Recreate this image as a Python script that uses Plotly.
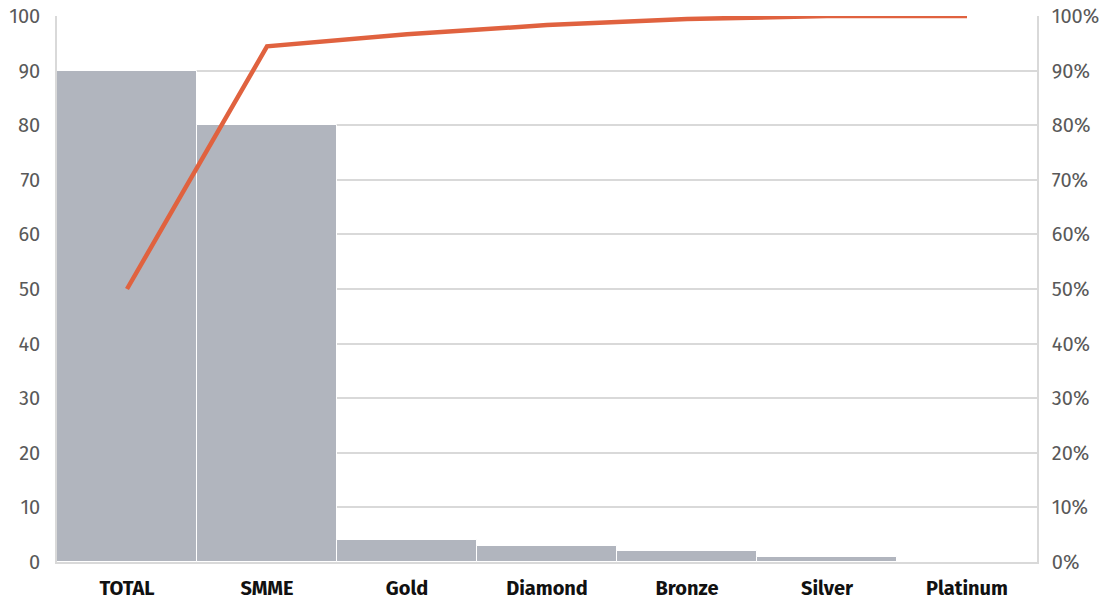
import plotly.graph_objects as go

categories = ["TOTAL", "SMME", "Gold", "Diamond", "Bronze", "Silver", "Platinum"]
counts = [90, 80, 4, 3, 2, 1, 0]
cumulative_pct = [0.5, 0.9444, 0.9667, 0.9833, 0.9944, 1.0, 1.0]

fig = go.Figure()
fig.add_trace(go.Bar(
    x=categories, y=counts,
    marker=dict(color="#b1b5be", line=dict(color="white", width=1)),
    yaxis="y", showlegend=False,
))
fig.add_trace(go.Scatter(
    x=categories, y=cumulative_pct, mode="lines",
    line=dict(color="#e0623f", width=4.5),
    yaxis="y2", showlegend=False,
))

font = "Fira Sans, Noto Sans, Open Sans, sans-serif"
fig.update_layout(
    width=1109, height=606,
    margin=dict(l=57, r=72, t=16, b=44),
    paper_bgcolor="white", plot_bgcolor="white",
    bargap=0,
    font=dict(family=font, size=20, color="#595959"),
    xaxis=dict(
        showgrid=False, showline=True, linecolor="#d9d9d9", linewidth=1.5,
        tickfont=dict(family=font, size=20, color="#111111", weight="bold"),
        ticks="outside", ticklen=7, tickcolor="rgba(0,0,0,0)", automargin=False,
    ),
    yaxis=dict(
        range=[0, 100], dtick=10, showgrid=True, gridcolor="#d9d9d9", gridwidth=1.5,
        showline=True, linecolor="#d9d9d9", linewidth=1.5, zeroline=False,
        ticks="outside", ticklen=11, tickcolor="rgba(0,0,0,0)", automargin=False,
        tickfont=dict(size=20, color="#595959"),
    ),
    yaxis2=dict(
        range=[0, 1], dtick=0.1, tickformat=".0%", overlaying="y", side="right",
        showgrid=False, showline=True, linecolor="#d9d9d9", linewidth=1.5, zeroline=False,
        ticks="outside", ticklen=9, tickcolor="rgba(0,0,0,0)", automargin=False,
        tickfont=dict(size=20, color="#595959"),
    ),
)

fig.write_html("out.html")
